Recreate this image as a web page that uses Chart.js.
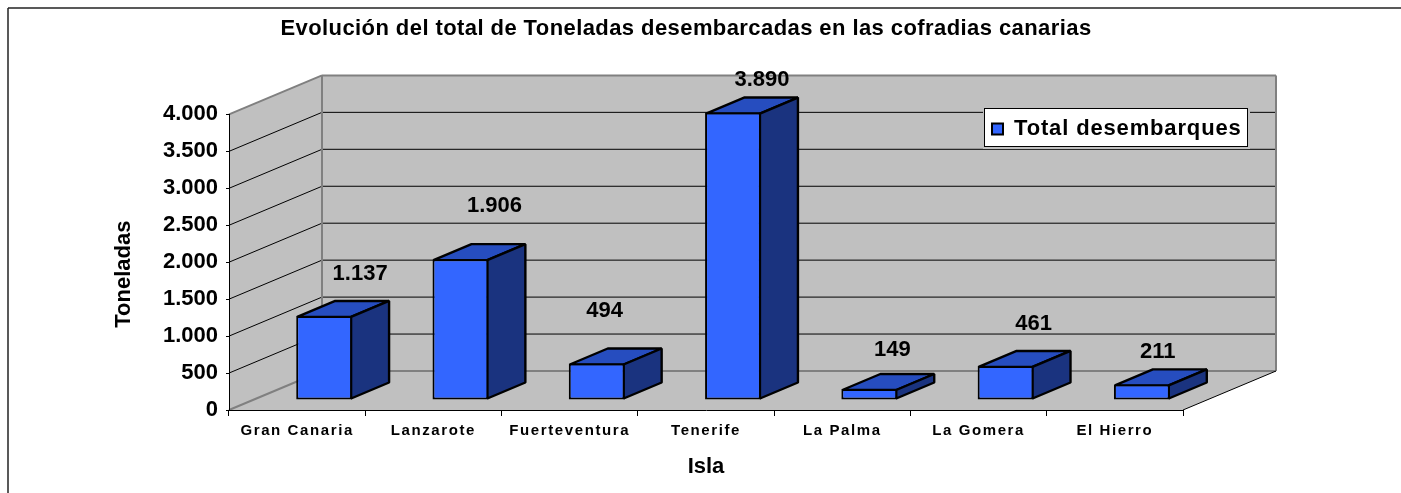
<!DOCTYPE html>
<html lang="es">
<head>
<meta charset="utf-8">
<title>Toneladas desembarcadas</title>
<script src="https://cdn.jsdelivr.net/npm/chart.js@4"></script>
<style>
    html, body { margin: 0; padding: 0; background: #fff; }
    #wrap { width: 1401px; height: 493px; position: relative; }
</style>
</head>
<body>
<div id="wrap"><canvas id="chart" width="1401" height="493"></canvas></div>
<script>
// datos
const islas = ['Gran Canaria', 'Lanzarote', 'Fuerteventura', 'Tenerife', 'La Palma', 'La Gomera', 'El Hierro'];
const desembarques = [1137, 1906, 494, 3890, 149, 461, 211];
const axisMax = 4000;
const axisStep = 500;

// profundidad del grafico 3D
const wallDx = 93, wallDy = -39;
const barShiftX = 27, barShiftY = -10;
const sideDx = 38, sideDy = -16;

// sitio de cada etiqueta respecto a la cara frontal de la barra
const labelDx = [36, 34, 8, 29, 23, 28, 16];
const labelDy = [-42, -53, -53, -33, -39, -42, -32];

const font = 'Liberation Sans, Arial, sans-serif';

function esNumber(v) {
    return String(v).replace(/\B(?=(\d{3})+$)/g, '.');
}

function poly(ctx, pts, fill, stroke, lw) {
    ctx.beginPath();
    pts.forEach((p, i) => i ? ctx.lineTo(p[0], p[1]) : ctx.moveTo(p[0], p[1]));
    ctx.closePath();
    if (fill) { ctx.fillStyle = fill; ctx.fill(); }
    if (stroke) { ctx.strokeStyle = stroke; ctx.lineWidth = lw; ctx.lineJoin = 'bevel'; ctx.stroke(); }
}

function line(ctx, x1, y1, x2, y2, color, lw) {
    ctx.beginPath();
    ctx.moveTo(x1, y1);
    ctx.lineTo(x2, y2);
    ctx.strokeStyle = color;
    ctx.lineWidth = lw;
    ctx.stroke();
}

// letter spacing para los textos, chart.js no tiene opcion
function spaced(obj, method, px) {
    if (obj['_sp' + method]) return;
    obj['_sp' + method] = true;
    const orig = obj[method];
    obj[method] = function () {
        const c = this.ctx;
        c.save();
        c.letterSpacing = px + 'px';
        orig.apply(this, arguments);
        c.restore();
    };
}

const walls3d = {
    id: 'walls3d',
    afterLayout(chart) {
        const t = chart.titleBlock, l = chart.legend, y = chart.scales.y, x = chart.scales.x;
        // titulo y leyenda van fuera del sitio normal
        const th = t.bottom - t.top;
        t.left = 0; t.right = 1372; t.top = 16; t.bottom = 16 + th;
        const h = l.bottom - l.top;
        l.left = 988; l.right = 1248; l.top = 114; l.bottom = 114 + h;
        spaced(t, 'draw', 0.42);
        spaced(l, 'draw', 0.85);
        spaced(x, 'drawLabels', 1.6);
        if (!y._moved) {
            y._moved = true;
            const orig = y.drawTitle;
            y.drawTitle = function () {
                this.ctx.save();
                this.ctx.translate(0, 12);
                orig.call(this);
                this.ctx.restore();
            };
        }
    },
    beforeDraw(chart) {
        const ctx = chart.ctx, a = chart.chartArea, y = chart.scales.y;
        const d = [wallDx, wallDy];
        const bx = a.left + d[0], by0 = y.getPixelForValue(0) + d[1], byT = y.getPixelForValue(axisMax) + d[1];
        ctx.save();
        // marco exterior, se corta por la derecha y por abajo
        line(ctx, 8, 8, 1401, 8, '#222', 1.5);
        line(ctx, 8, 8, 8, 493, '#222', 1.5);
        // paredes y suelo
        poly(ctx, [[a.left, a.top], [bx, byT], [bx, by0], [a.left, a.bottom]], '#c0c0c0');
        poly(ctx, [[bx, byT], [a.right + d[0], byT], [a.right + d[0], by0], [bx, by0]], '#c0c0c0');
        poly(ctx, [[a.left, a.bottom], [bx, by0], [a.right + d[0], by0], [a.right, a.bottom]], '#c0c0c0');
        // rejilla
        y.ticks.forEach(t => {
            if (t.value === 0 || t.value === axisMax) return;
            const py = y.getPixelForValue(t.value);
            line(ctx, a.left, py, bx, py + d[1], '#000', 1);
            line(ctx, bx, py + d[1], a.right + d[0], py + d[1], '#000', 1);
        });
        // bordes grises
        line(ctx, a.left, a.top, bx, byT, '#808080', 2);
        line(ctx, bx, byT, a.right + d[0], byT, '#808080', 2);
        line(ctx, bx, byT, bx, by0, '#808080', 2);
        line(ctx, a.right + d[0], byT, a.right + d[0], by0, '#808080', 2);
        line(ctx, bx, by0, a.right + d[0], by0, '#808080', 2);
        line(ctx, a.left, a.bottom, bx, by0, '#808080', 2);
        line(ctx, a.right, a.bottom, a.right + d[0], by0, '#000', 1);
        // caja de la leyenda
        ctx.fillStyle = '#c0c0c0';
        ctx.fillRect(983, 106, 267, 43);
        ctx.fillStyle = '#fff';
        ctx.fillRect(985, 108, 263, 39);
        ctx.strokeStyle = '#000';
        ctx.lineWidth = 1;
        ctx.strokeRect(984.5, 108.5, 263, 38);
        ctx.restore();
    },
    beforeDatasetsDraw(chart) {
        const ctx = chart.ctx;
        ctx.save();
        ctx.translate(barShiftX, barShiftY);
        // caras de arriba y del lado
        chart.getDatasetMeta(0).data.forEach(b => {
            const xl = b.x - b.width / 2 + 1, xr = b.x + b.width / 2 - 1, yt = b.y + 1, yb = b.base - 1;
            poly(ctx, [[xl, yt], [xr, yt], [xr + sideDx, yt + sideDy], [xl + sideDx, yt + sideDy]], '#264dbf', '#000', 2.4);
            poly(ctx, [[xr, yt], [xr + sideDx, yt + sideDy], [xr + sideDx, yb + sideDy], [xr, yb]], '#1a337f', '#000', 2.4);
        });
    },
    afterDatasetsDraw(chart) {
        const ctx = chart.ctx;
        // la barra frontal ya esta pintada con el translate
        ctx.restore();
        ctx.save();
        ctx.font = 'bold 22px ' + font;
        ctx.fillStyle = '#000';
        ctx.textAlign = 'center';
        ctx.textBaseline = 'middle';
        chart.getDatasetMeta(0).data.forEach((b, i) => {
            ctx.fillText(esNumber(desembarques[i]), b.x + barShiftX + labelDx[i], b.y + barShiftY + labelDy[i]);
        });
        ctx.restore();
    }
};

new Chart(document.getElementById('chart'), {
    type: 'bar',
    data: {
        labels: islas,
        datasets: [{
            label: 'Total desembarques',
            data: desembarques,
            backgroundColor: '#3366ff',
            borderColor: '#000',
            borderWidth: 2,
            borderSkipped: false,
            categoryPercentage: 1,
            barPercentage: 0.41
        }]
    },
    plugins: [walls3d],
    options: {
        responsive: false,
        animation: false,
        events: [],
        layout: { padding: { left: 100, right: 218, top: 42, bottom: 10 } },
        scales: {
            x: {
                afterFit: s => { s.height = 73; },
                border: { color: '#000', width: 1 },
                grid: { drawOnChartArea: false, color: '#000', tickLength: 6, tickColor: '#000' },
                ticks: { color: '#000', font: { family: font, size: 15, weight: 'bold' }, maxRotation: 0, autoSkip: false, padding: 6 },
                title: { display: true, text: 'Isla', color: '#000', font: { family: font, size: 22, weight: 'bold' }, padding: { top: 3, bottom: 3 } }
            },
            y: {
                min: 0,
                max: axisMax,
                afterFit: s => { s.width = 129; },
                border: { color: '#000', width: 1 },
                grid: { drawOnChartArea: false, tickLength: 3, tickColor: '#000' },
                ticks: { stepSize: axisStep, color: '#000', font: { family: font, size: 22, weight: 'bold' }, padding: 8, callback: v => esNumber(v) },
                title: { display: true, text: 'Toneladas', color: '#000', font: { family: font, size: 22, weight: 'bold' }, padding: { top: 11, bottom: 0 } }
            }
        },
        plugins: {
            title: { display: true, text: 'Evolución del total de Toneladas desembarcadas en las cofradias canarias', color: '#000', font: { family: font, size: 22, weight: 'bold' }, padding: { top: 0, bottom: 10 } },
            legend: {
                position: 'top',
                align: 'start',
                labels: { color: '#000', font: { family: font, size: 22, weight: 'bold' }, boxWidth: 11, boxHeight: 11, padding: 4 }
            },
            tooltip: { enabled: false }
        }
    }
});
</script>
</body>
</html>
